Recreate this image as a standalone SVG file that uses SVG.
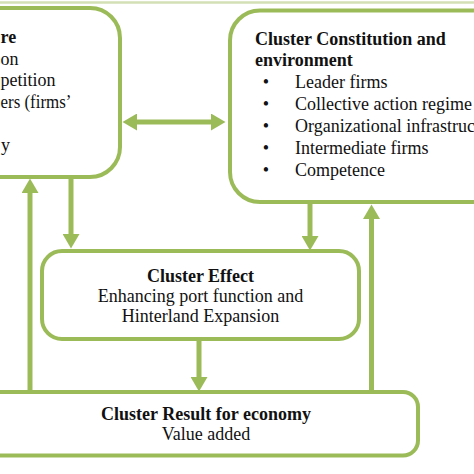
<svg xmlns="http://www.w3.org/2000/svg" width="474" height="474" viewBox="0 0 474 474">
  <defs>
    <style>
      .box { fill: #ffffff; stroke: #9bbb59; stroke-width: 4; }
      .conn { stroke: #9bbb59; stroke-width: 5; fill: none; }
      .t { font-family: "Liberation Serif", "Times New Roman", serif; font-size: 18px; fill: #111111; }
      .b { font-weight: bold; }
      .m { text-anchor: middle; }
      .e { text-anchor: end; }
    </style>
    <marker id="ah" markerUnits="userSpaceOnUse" markerWidth="15" markerHeight="17" refX="6" refY="8.5" orient="auto-start-reverse" viewBox="0 0 15 17">
      <path d="M0,0 L14.5,8.5 L0,17 z" fill="#9bbb59"/>
    </marker>
  </defs>
  <rect width="474" height="474" fill="#ffffff"/>
  <line x1="0" y1="2.5" x2="474" y2="2.5" stroke="#d3e0b6" stroke-width="2.5"/>

  <g id="connectors">
    <line class="conn" x1="131" y1="122" x2="217" y2="122" marker-start="url(#ah)" marker-end="url(#ah)"/>
    <line class="conn" x1="30" y1="393" x2="30" y2="187" marker-end="url(#ah)"/>
    <line class="conn" x1="71" y1="179" x2="71" y2="240" marker-end="url(#ah)"/>
    <line class="conn" x1="310" y1="204" x2="310" y2="242" marker-end="url(#ah)"/>
    <line class="conn" x1="371.5" y1="397" x2="371.5" y2="213" marker-end="url(#ah)"/>
    <line class="conn" x1="199" y1="341" x2="199" y2="383" marker-end="url(#ah)"/>
  </g>

  <g id="node-structure">
    <rect class="box" x="-40" y="8" width="160" height="169" rx="30"/>
    <text class="t b" x="0.5" y="43">re</text>
    <text class="t" x="0.5" y="64.5">on</text>
    <text class="t" x="0.5" y="86">petition</text>
    <text class="t" x="0.5" y="107.5" textLength="71" lengthAdjust="spacingAndGlyphs">ers (firms’</text>
    <text class="t" x="1" y="150.5">y</text>
  </g>

  <g id="node-constitution">
    <rect class="box" x="230" y="10.5" width="280" height="191.5" rx="30"/>
    <text class="t b" x="255" y="44.5">Cluster Constitution and</text>
    <text class="t b" x="255" y="66">environment</text>
    <text class="t m" x="266" y="88">•</text>
    <text class="t" x="295" y="88">Leader firms</text>
    <text class="t m" x="266" y="110">•</text>
    <text class="t" x="295" y="110">Collective action regime</text>
    <text class="t m" x="266" y="132">•</text>
    <text class="t" x="295" y="132">Organizational infrastruc</text>
    <text class="t m" x="266" y="154">•</text>
    <text class="t" x="295" y="154">Intermediate firms</text>
    <text class="t m" x="266" y="176">•</text>
    <text class="t" x="295" y="176">Competence</text>
  </g>

  <g id="node-effect">
    <rect class="box" x="42" y="251" width="317" height="88" rx="20"/>
    <text class="t b m" x="200.5" y="282">Cluster Effect</text>
    <text class="t m" x="200.5" y="302">Enhancing port function and</text>
    <text class="t m" x="200.5" y="322">Hinterland Expansion</text>
  </g>

  <g id="node-result">
    <rect class="box" x="-20" y="392" width="438" height="63.5" rx="15"/>
    <text class="t b m" x="206" y="420">Cluster Result for economy</text>
    <text class="t m" x="206" y="440">Value added</text>
  </g>
</svg>
